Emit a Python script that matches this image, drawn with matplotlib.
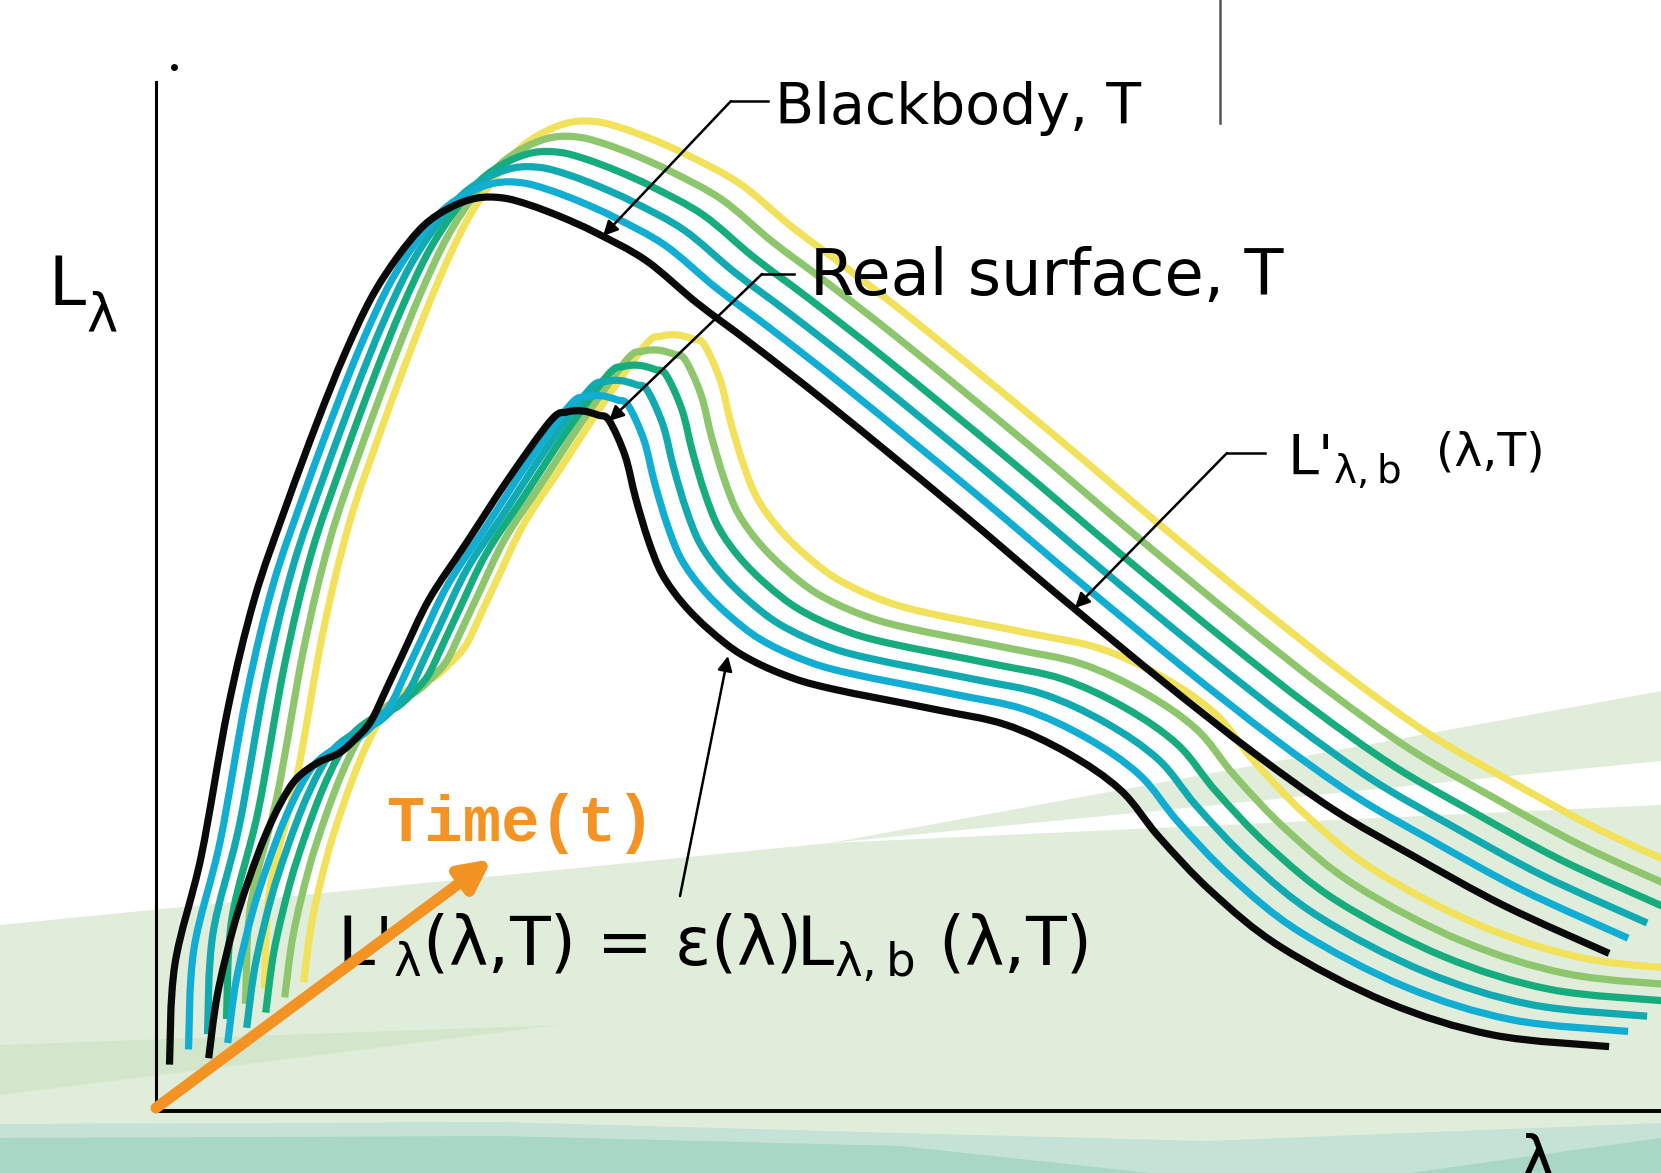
import matplotlib
matplotlib.use("Agg")
import matplotlib.pyplot as plt
from matplotlib.path import Path
from matplotlib.patches import PathPatch
import numpy as np

plt.rcParams['font.family'] = ['DejaVu Sans']
plt.rcParams['mathtext.fontset'] = 'dejavusans'

# blackbody spectral radiance (arbitrary units)
bb_lam = [0.135, 0.188, 0.453, 0.717, 0.982, 1.30, 1.618, 1.883, 2.148, 2.412,
          2.677, 2.942, 3.207, 3.472, 3.737, 4.054, 4.404, 4.902, 5.41, 5.961,
          6.745, 7.974, 9.075, 10.092, 10.982, 11.787, 12.571, 13.482, 14.531]
bb_L = [0.464, 1.46, 2.551, 4.013, 5.114, 6.047, 6.905, 7.561, 8.123, 8.536,
        8.854, 9.034, 9.129, 9.13, 9.06, 8.94, 8.78, 8.504, 8.08, 7.667,
        7.053, 6.047, 5.114, 4.277, 3.578, 3.006, 2.551, 2.053, 1.576]

# real surface curve
rs_lam = [0.527, 0.612, 0.77, 0.929, 1.088, 1.247, 1.406, 1.618, 1.83, 1.989,
          2.148, 2.306, 2.465, 2.73, 3.101, 3.525, 3.948, 4.107, 4.266, 4.425,
          4.531, 4.69, 4.796, 4.923, 5.061, 5.272, 5.537, 5.855, 6.279, 6.745,
          7.804, 8.493, 9.118, 9.647, 10.029, 10.558, 11.247, 12.306, 13.366, 14.531]
rs_L = [0.528, 1.153, 1.82, 2.318, 2.742, 3.081, 3.324, 3.483, 3.578, 3.716,
        3.896, 4.225, 4.564, 5.114, 5.676, 6.322, 6.905, 6.989, 7.0, 6.958,
        6.905, 6.555, 6.131, 5.708, 5.369, 5.072, 4.807, 4.564, 4.362, 4.225,
        4.013, 3.864, 3.578, 3.208, 2.742, 2.191, 1.64, 1.089, 0.761, 0.644]

# curves drifting with time: offset of each later copy
time_steps = [1, 2, 3, 4, 5]
step_lam = 0.19
step_L = 0.152
step_colors = ['#12ADD2', '#10AAB0', '#17AC7E', '#8EC66D', '#F2E15B']


def smooth_path(x, y):
    # draw through the read points with cubic segments (Catmull-Rom handles)
    pts = np.column_stack([x, y])
    verts = [pts[0]]
    codes = [Path.MOVETO]
    n = len(pts)
    for i in range(n - 1):
        p0 = pts[i - 1] if i > 0 else pts[i]
        p1 = pts[i]
        p2 = pts[i + 1]
        p3 = pts[i + 2] if i + 2 < n else pts[i + 1]
        verts += [p1 + (p2 - p0) / 6, p2 - (p3 - p1) / 6, p2]
        codes += [Path.CURVE4] * 3
    return Path(verts, codes)


fig = plt.figure(figsize=(16.61, 11.73), dpi=100)
ax = fig.add_axes([0, 0, 1, 1])
ax.set_xlim(-1.56, 15.05)
ax.set_ylim(-0.62, 11.11)
ax.axis('off')

# background shapes
ax.fill([-1.56, 6.74, 15.05, 15.05, -1.56], [1.86, 2.68, 3.06, -0.62, -0.62],
        color='#E1EDDB', lw=0, zorder=0)
ax.fill([6.74, 15.05, 15.05], [2.68, 4.20, 3.50], color='#E1EDDB', lw=0, zorder=0)
ax.fill([-1.56, -1.56, 4.04], [0.66, 0.16, 0.86], color='#D3E6CC', lw=0, zorder=0)
ax.fill([-1.56, 3.44, 7.44, 10.5, 15.05, 15.05, -1.56],
        [-0.13, -0.11, -0.22, -0.30, -0.12, -0.62, -0.62],
        color='#C4E2D6', lw=0, zorder=0)
ax.fill([-1.56, 3.44, 7.44, 9.94, -1.56], [-0.27, -0.25, -0.35, -0.62, -0.62],
        color='#A9D7C6', lw=0, zorder=0)
ax.fill([12.54, 15.05, 15.05], [-0.62, -0.27, -0.62], color='#A9D7C6', lw=0, zorder=0)

bb_lam = np.array(bb_lam)
bb_L = np.array(bb_L)
rs_lam = np.array(rs_lam)
rs_L = np.array(rs_L)

for lam, L in [(bb_lam, bb_L), (rs_lam, rs_L)]:
    for k, c in zip(time_steps[::-1], step_colors[::-1]):
        ax.add_patch(PathPatch(smooth_path(lam + k * step_lam, L + k * step_L),
                               fill=False, ec=c, lw=5.2, capstyle='butt',
                               joinstyle='round', zorder=2))
for lam, L in [(bb_lam, bb_L), (rs_lam, rs_L)]:
    ax.add_patch(PathPatch(smooth_path(lam, L), fill=False, ec='#0A0A0A', lw=5.2,
                           capstyle='butt', joinstyle='round', zorder=3))

# axes
ax.plot([0, 0], [0, 10.29], color='black', lw=2.2, zorder=4)
ax.plot([0, 15.05], [0, 0], color='black', lw=2.8, zorder=4)
ax.plot([0.18], [10.44], 'o', color='black', ms=4, zorder=4)
ax.plot([10.64, 10.64], [11.11, 9.88], color='#555555', lw=1.8, zorder=4)

ax.text(-1.08, 8.06, 'L', fontsize=48, ha='left', va='baseline')
ax.text(-0.70, 7.80, 'λ', fontsize=38, ha='left', va='baseline')
ax.text(13.62, -0.52, 'λ', fontsize=46, ha='left', va='center')

# labels with leader lines
thin = dict(arrowstyle='-|>', lw=1.8, color='black', mutation_scale=22,
            shrinkA=0, shrinkB=0)
ax.text(6.19, 9.87, 'Blackbody, T', fontsize=41, ha='left', va='baseline')
ax.plot([5.75, 6.12], [10.10, 10.10], color='black', lw=1.8)
ax.annotate('', xy=(4.47, 8.75), xytext=(5.75, 10.10), arrowprops=thin)

ax.text(6.54, 8.16, 'Real surface, T', fontsize=46, ha='left', va='baseline')
ax.plot([6.06, 6.38], [8.37, 8.37], color='black', lw=1.8)
ax.annotate('', xy=(4.53, 6.90), xytext=(6.06, 8.37), arrowprops=thin)

ax.text(11.31, 6.36, r"L'$_{\mathregular{λ,b}}$", fontsize=40,
        ha='left', va='baseline')
ax.text(12.80, 6.45, '(λ,T)', fontsize=34, ha='left', va='baseline')
ax.plot([10.71, 11.09], [6.58, 6.58], color='black', lw=1.8)
ax.annotate('', xy=(9.19, 5.03), xytext=(10.71, 6.58), arrowprops=thin)

ax.text(1.81, 1.46, r"L'$_{\mathregular{λ}}$(λ,T) = ε(λ)L$_{\mathregular{λ,b}}$ (λ,T)",
        fontsize=48, ha='left', va='baseline', zorder=5)
ax.annotate('', xy=(5.72, 4.55), xytext=(5.24, 2.15), arrowprops=thin)

# time arrow
ax.annotate('', xy=(3.36, 2.52), xytext=(0.0, 0.03),
            arrowprops=dict(arrowstyle='-|>', lw=8, color='#F39324',
                            mutation_scale=45, shrinkA=0, shrinkB=0), zorder=6)
ax.text(2.30, 2.70, 'Time(t)', fontsize=46, color='#F39324', fontweight='bold',
        family=['Liberation Mono', 'DejaVu Sans Mono'], ha='left', va='baseline')

fig.savefig('out.png', dpi=100)
